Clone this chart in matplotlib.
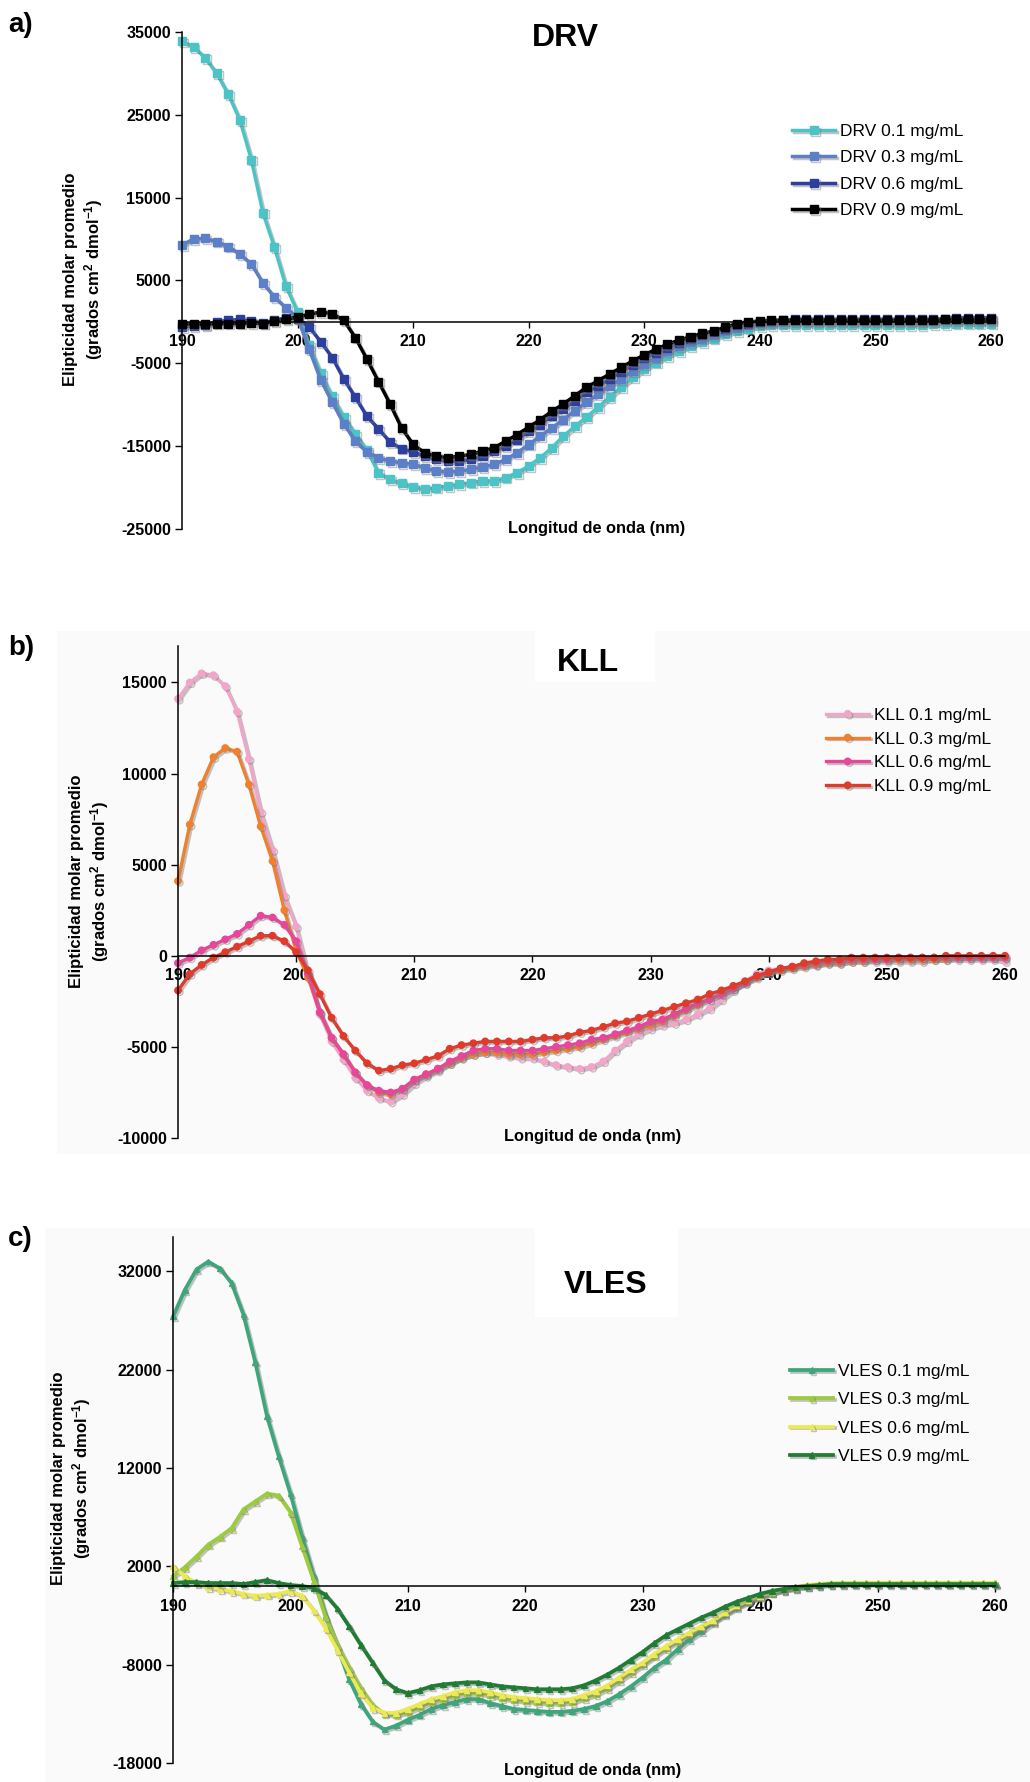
import matplotlib
matplotlib.use("Agg")
import matplotlib.pyplot as plt
import matplotlib.patheffects as pe
from matplotlib.patches import Rectangle

plt.rcParams['font.family'] = ['Liberation Sans', 'DejaVu Sans']
plt.rcParams['mathtext.default'] = 'regular'

# ---------------- data (wavelength in nm, ellipticity in thousands) ----------------
wavelength = list(range(190, 261))

drv_01 = [33.9, 33.2, 31.9, 30.0, 27.5, 24.4, 19.6, 13.2, 9.0, 4.3, 1.2,
          -2.8, -6.2, -9.0, -11.5, -13.5, -15.5, -18.2, -19.0, -19.5, -19.9,
          -20.2, -20.0, -19.8, -19.6, -19.4, -19.2, -19.2, -18.8, -18.2, -17.4,
          -16.4, -15.2, -13.8, -12.6, -11.5, -10.3, -9.1, -7.9, -6.7, -5.7,
          -4.9, -4.1, -3.5, -2.9, -2.4, -2.0, -1.5, -1.1, -0.8, -0.5,
          -0.4, -0.4, -0.4, -0.4, -0.4, -0.4, -0.4, -0.4, -0.4, -0.4,
          -0.4, -0.4, -0.4, -0.4, -0.3, -0.3, -0.2, -0.2, -0.2, -0.2]
drv_03 = [9.3, 10.0, 10.1, 9.7, 9.1, 8.2, 7.0, 4.7, 3.0, 1.7, 0.5,
          -3.3, -7.0, -9.7, -12.3, -14.4, -15.7, -16.4, -16.8, -17.0, -17.2,
          -17.6, -18.0, -18.1, -18.0, -17.8, -17.5, -17.2, -16.6, -15.8, -14.8,
          -13.8, -12.8, -11.8, -10.7, -9.7, -8.7, -7.7, -6.9, -5.9, -5.1,
          -4.3, -3.5, -2.9, -2.4, -2.0, -1.6, -1.1, -0.7, -0.4, -0.1,
          0.0, 0.0, 0.1, 0.1, 0.1, 0.1, 0.1, 0.1, 0.1, 0.1,
          0.1, 0.1, 0.1, 0.1, 0.1, 0.2, 0.2, 0.2, 0.2, 0.2]
drv_06 = [-0.6, -0.5, -0.4, 0.0, 0.2, 0.3, 0.1, -0.1, 0.2, 0.5, 0.4,
          -0.6, -2.4, -4.3, -6.9, -9.1, -11.4, -12.9, -14.5, -15.3, -15.7,
          -16.2, -16.6, -16.8, -16.8, -16.6, -16.2, -15.6, -15.0, -14.2, -13.2,
          -12.4, -11.3, -10.5, -9.5, -8.5, -7.7, -6.9, -6.0, -5.2, -4.4,
          -3.7, -3.1, -2.5, -2.0, -1.6, -1.2, -0.8, -0.4, -0.2, 0.0,
          0.1, 0.2, 0.3, 0.3, 0.3, 0.3, 0.3, 0.3, 0.3, 0.3,
          0.3, 0.3, 0.3, 0.3, 0.3, 0.4, 0.5, 0.5, 0.5, 0.5]
drv_09 = [-0.3, -0.2, -0.3, -0.2, -0.2, -0.2, -0.1, -0.2, 0.1, 0.3, 0.6,
          0.9, 1.2, 1.0, 0.2, -1.9, -4.5, -7.2, -9.9, -12.8, -14.8,
          -15.8, -16.2, -16.4, -16.2, -16.0, -15.6, -15.2, -14.4, -13.6, -12.7,
          -11.8, -10.8, -9.9, -8.9, -7.9, -7.1, -6.3, -5.5, -4.7, -4.0,
          -3.3, -2.7, -2.2, -1.8, -1.4, -1.1, -0.65, -0.2, 0.0, 0.1,
          0.2, 0.2, 0.2, 0.2, 0.2, 0.2, 0.2, 0.2, 0.2, 0.2,
          0.2, 0.2, 0.2, 0.2, 0.2, 0.3, 0.3, 0.3, 0.3, 0.3]

kll_01 = [14.1, 15.0, 15.5, 15.4, 14.8, 13.4, 10.8, 7.9, 5.8, 3.3, 1.6,
          -1.0, -3.2, -4.7, -5.7, -6.7, -7.4, -7.8, -8.0, -7.6, -7.0,
          -6.6, -6.3, -5.9, -5.6, -5.4, -5.3, -5.4, -5.5, -5.6, -5.6,
          -5.8, -6.0, -6.1, -6.2, -6.1, -5.8, -5.2, -4.7, -4.3, -4.0,
          -3.8, -3.7, -3.5, -3.2, -2.9, -2.4, -1.9, -1.4, -1.0, -0.8,
          -0.7, -0.6, -0.5, -0.5, -0.4, -0.4, -0.3, -0.3, -0.3, -0.3,
          -0.3, -0.3, -0.3, -0.2, -0.2, -0.2, -0.2, -0.2, -0.2, -0.3]
kll_03 = [4.1, 7.2, 9.4, 10.9, 11.4, 11.2, 9.4, 7.1, 5.2, 2.5, 0.3,
          -1.2, -3.1, -4.5, -5.4, -6.4, -7.1, -7.5, -7.6, -7.3, -6.8,
          -6.5, -6.2, -5.9, -5.6, -5.4, -5.3, -5.3, -5.4, -5.4, -5.4,
          -5.3, -5.2, -5.1, -5.0, -4.8, -4.6, -4.4, -4.2, -4.0, -3.8,
          -3.6, -3.3, -3.0, -2.7, -2.4, -2.1, -1.8, -1.5, -1.2, -0.9,
          -0.8, -0.7, -0.6, -0.5, -0.4, -0.4, -0.3, -0.3, -0.2, -0.2,
          -0.2, -0.2, -0.2, -0.2, -0.2, -0.1, -0.1, -0.1, -0.1, -0.1]
kll_06 = [-0.4, -0.1, 0.3, 0.6, 0.9, 1.2, 1.7, 2.2, 2.1, 1.7, 0.8,
          -1.0, -3.1, -4.5, -5.4, -6.4, -7.1, -7.4, -7.5, -7.3, -6.8,
          -6.5, -6.2, -5.8, -5.5, -5.2, -5.1, -5.1, -5.2, -5.2, -5.2,
          -5.1, -5.0, -4.9, -4.8, -4.6, -4.5, -4.3, -4.1, -3.9, -3.6,
          -3.5, -3.2, -2.9, -2.6, -2.4, -2.1, -1.8, -1.5, -1.1, -0.9,
          -0.7, -0.6, -0.5, -0.4, -0.3, -0.3, -0.2, -0.2, -0.2, -0.2,
          -0.1, -0.1, -0.1, -0.1, -0.1, -0.1, -0.1, -0.1, -0.1, -0.1]
kll_09 = [-1.9, -1.0, -0.5, -0.1, 0.2, 0.5, 0.8, 1.1, 1.1, 0.8, 0.2,
          -0.8, -2.1, -3.4, -4.4, -5.2, -5.9, -6.3, -6.2, -6.0, -5.9,
          -5.7, -5.5, -5.1, -4.9, -4.8, -4.7, -4.7, -4.7, -4.7, -4.6,
          -4.5, -4.5, -4.4, -4.2, -4.1, -3.9, -3.7, -3.6, -3.4, -3.2,
          -3.0, -2.8, -2.6, -2.4, -2.1, -1.9, -1.65, -1.4, -1.1, -0.9,
          -0.7, -0.6, -0.4, -0.3, -0.2, -0.2, -0.1, -0.1, -0.1, -0.1,
          -0.1, -0.1, -0.1, -0.1, 0.0, 0.0, 0.0, 0.0, 0.0, 0.0]

vles_01 = [27.4, 30.1, 32.2, 33.0, 32.3, 30.8, 27.6, 22.8, 17.3, 13.2, 9.4,
           5.0, 1.0, -3.0, -6.2, -9.5, -12.0, -13.8, -14.6, -14.2, -13.6,
           -13.1, -12.5, -12.1, -11.8, -11.5, -11.5, -11.9, -12.2, -12.5, -12.6,
           -12.7, -12.8, -12.8, -12.7, -12.5, -12.2, -11.7, -11.0, -10.2, -9.3,
           -8.3, -7.5, -6.4, -5.4, -4.6, -3.7, -2.9, -2.2, -1.6, -1.1,
           -0.7, -0.4, -0.2, 0.0, 0.1, 0.2, 0.3, 0.3, 0.3, 0.3,
           0.3, 0.3, 0.3, 0.3, 0.3, 0.3, 0.3, 0.3, 0.3, 0.3]
vles_03 = [1.0, 1.9, 3.0, 4.2, 5.0, 5.9, 7.8, 8.6, 9.4, 9.2, 7.5,
           4.0, 0.5, -3.2, -6.0, -8.3, -10.4, -12.1, -13.0, -13.1, -12.8,
           -12.3, -11.8, -11.5, -11.1, -10.9, -10.9, -11.1, -11.4, -11.6, -11.7,
           -11.8, -11.9, -11.9, -11.8, -11.4, -11.0, -10.4, -9.6, -8.8, -8.0,
           -7.1, -6.3, -5.6, -4.9, -4.2, -3.6, -2.8, -2.1, -1.5, -1.1,
           -0.7, -0.4, -0.2, 0.0, 0.1, 0.2, 0.2, 0.3, 0.3, 0.3,
           0.3, 0.3, 0.3, 0.3, 0.3, 0.3, 0.3, 0.3, 0.3, 0.3]
vles_06 = [2.0, 1.0, 0.3, -0.1, -0.3, -0.5, -0.8, -1.0, -0.9, -0.8, -0.5,
           -1.0, -2.5, -4.3, -6.5, -8.8, -10.9, -12.4, -12.9, -12.9, -12.5,
           -12.0, -11.5, -11.2, -10.8, -10.6, -10.6, -10.8, -11.1, -11.3, -11.4,
           -11.5, -11.6, -11.6, -11.5, -11.1, -10.7, -10.1, -9.3, -8.5, -7.8,
           -6.9, -6.1, -5.4, -4.7, -4.1, -3.5, -2.7, -2.0, -1.4, -1.0,
           -0.6, -0.3, -0.1, 0.1, 0.2, 0.3, 0.3, 0.3, 0.3, 0.3,
           0.3, 0.3, 0.3, 0.3, 0.3, 0.3, 0.3, 0.3, 0.3, 0.3]
vles_09 = [0.3, 0.4, 0.4, 0.3, 0.3, 0.3, 0.2, 0.4, 0.6, 0.3, 0.1,
           0.0, -0.2, -0.9, -2.3, -4.1, -6.0, -7.8, -9.6, -10.5, -10.9,
           -10.6, -10.2, -10.0, -9.9, -9.8, -9.8, -10.0, -10.2, -10.3, -10.4,
           -10.5, -10.5, -10.5, -10.4, -10.1, -9.6, -9.0, -8.3, -7.5, -6.7,
           -5.8, -5.0, -4.4, -3.8, -3.2, -2.7, -2.1, -1.6, -1.2, -0.8,
           -0.5, -0.3, -0.1, 0.0, 0.1, 0.2, 0.2, 0.2, 0.2, 0.2,
           0.2, 0.2, 0.2, 0.2, 0.2, 0.2, 0.2, 0.2, 0.2, 0.2]

drv_labels = ['DRV 0.1 mg/mL', 'DRV 0.3 mg/mL', 'DRV 0.6 mg/mL', 'DRV 0.9 mg/mL']
kll_labels = ['KLL 0.1 mg/mL', 'KLL 0.3 mg/mL', 'KLL 0.6 mg/mL', 'KLL 0.9 mg/mL']
vles_labels = ['VLES 0.1 mg/mL', 'VLES 0.3 mg/mL', 'VLES 0.6 mg/mL', 'VLES 0.9 mg/mL']

drv_colors = ['#4cc3c7', '#5b7fc9', '#2c3f9f', '#000000']
kll_colors = ['#f2a5c9', '#f07f2e', '#e8469b', '#e03a2b']
vles_colors = ['#3da67a', '#9ccb3e', '#ece957', '#1f7c34']

# ---------------- layout helpers (pixel -> figure fraction) ----------------
W, H = 1030, 1782
fig = plt.figure(figsize=(W / 100, H / 100), dpi=100)


def fx(px):
    return px / W


def fy(py):
    return 1 - py / H


def bg_rect(x0, y0, x1, y1, color):
    fig.patches.append(Rectangle((fx(x0), fy(y1)), (x1 - x0) / W, (y1 - y0) / H,
                                 transform=fig.transFigure, facecolor=color,
                                 edgecolor='none', zorder=-10))


# very light grey background of panels b and c, white boxes around titles
bg_rect(57, 631, 1030, 1154, '#fafafa')
bg_rect(45, 1228, 1030, 1782, '#fafafa')
bg_rect(535, 621, 655, 682, '#ffffff')
bg_rect(535, 1220, 678, 1317, '#ffffff')

shadow = [pe.SimpleLineShadow(offset=(1.3, -1.3), shadow_color='#7a7a7a', alpha=0.45), pe.Normal()]

panels = [
    dict(tag='a)', tag_y=25, title='DRV', title_xy=(565, 38),
         box=(182, 32, 991, 529), ylim=(-25000, 35000), yticks=list(range(-25000, 35001, 10000)),
         series=[drv_01, drv_03, drv_06, drv_09], labels=drv_labels, colors=drv_colors,
         marker='s', ms=5.8, lw=2.5,
         leg_xy=(792, 171), leg_sp=0.65, xlabel_xy=(597, 529), ylabel_xy=(84, 279)),
    dict(tag='b)', tag_y=648, title='KLL', title_xy=(588, 663),
         box=(178, 646, 1005, 1138), ylim=(-10000, 17000), yticks=list(range(-10000, 15001, 5000)),
         series=[kll_01, kll_03, kll_06, kll_09], labels=kll_labels, colors=kll_colors,
         marker='o', ms=4.6, lw=2.4,
         leg_xy=(826, 751), leg_sp=0.5, xlabel_xy=(593, 1137), ylabel_xy=(90, 881)),
    dict(tag='c)', tag_y=1239, title='VLES', title_xy=(606, 1285),
         box=(173, 1237, 995, 1763), ylim=(-18000, 35500), yticks=list(range(-18000, 32001, 10000)),
         series=[vles_01, vles_03, vles_06, vles_09], labels=vles_labels, colors=vles_colors,
         marker='^', ms=4.0, lw=2.7,
         leg_xy=(790, 1414), leg_sp=0.75, xlabel_xy=(593, 1771), ylabel_xy=(72, 1478)),
]

for p in panels:
    x0, y0, x1, y1 = p['box']
    ax = fig.add_axes([fx(x0), fy(y1), (x1 - x0) / W, (y1 - y0) / H])
    ax.set_facecolor('none')
    ax.set_xlim(190, 260)
    ax.set_ylim(*p['ylim'])

    for vals, lab, col in zip(p['series'], p['labels'], p['colors']):
        ax.plot(wavelength, [v * 1000 for v in vals], color=col, lw=p['lw'],
                marker=p['marker'], ms=p['ms'], mfc=col, mec=col, label=lab,
                path_effects=shadow, clip_on=False)

    ax.spines['top'].set_visible(False)
    ax.spines['right'].set_visible(False)
    ax.spines['bottom'].set_position(('data', 0))
    ax.spines['left'].set_linewidth(1.1)
    ax.spines['bottom'].set_linewidth(1.1)

    ax.set_xticks(list(range(190, 261, 10)))
    ax.set_xticklabels([str(v) for v in range(190, 261, 10)], fontweight='bold', fontsize=11.5)
    ax.set_yticks(p['yticks'])
    ax.set_yticklabels([str(v) for v in p['yticks']], fontweight='bold', fontsize=11.5)
    ax.tick_params(axis='x', direction='out', length=4, width=1, pad=5)
    ax.tick_params(axis='y', direction='out', length=5, width=1, pad=3)

    ax.legend(loc='center left', bbox_to_anchor=(fx(p['leg_xy'][0]), fy(p['leg_xy'][1])),
              bbox_transform=fig.transFigure, frameon=False, fontsize=12.5,
              handlelength=2.5, handletextpad=0.25, labelspacing=p['leg_sp'],
              borderpad=0, borderaxespad=0, numpoints=1)

    fig.text(fx(p['title_xy'][0]), fy(p['title_xy'][1]), p['title'], fontsize=23,
             fontweight='bold', ha='center', va='center')
    fig.text(fx(8), fy(p['tag_y']), p['tag'], fontsize=20, fontweight='bold',
             ha='left', va='center')
    fig.text(fx(p['xlabel_xy'][0]), fy(p['xlabel_xy'][1]), 'Longitud de onda (nm)',
             fontsize=11.8, fontweight='bold', ha='center', va='center')
    fig.text(fx(p['ylabel_xy'][0]), fy(p['ylabel_xy'][1]),
             'Elipticidad molar promedio\n(grados cm$^{2}$ dmol$^{-1}$)',
             fontsize=12, fontweight='bold', ha='center', va='center',
             rotation=90, multialignment='center', linespacing=1.25)

fig.savefig('out.png', dpi=100)
